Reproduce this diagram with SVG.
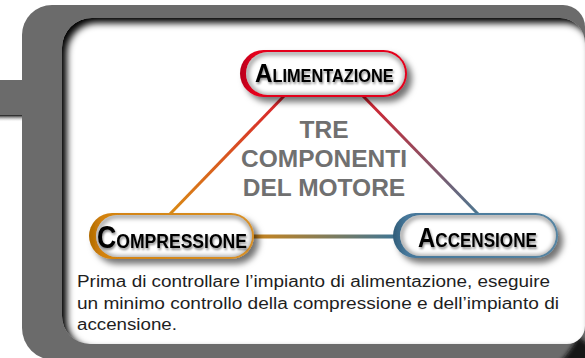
<svg xmlns="http://www.w3.org/2000/svg" width="585" height="358" viewBox="0 0 585 358">
<style>
.lbl{font-family:"Liberation Sans",Arial,sans-serif;font-weight:bold;fill:#000;}
.ctr{font-family:"Liberation Sans",Arial,sans-serif;font-weight:bold;font-size:24.5px;fill:#707070;text-anchor:middle;}
.para{font-family:"Liberation Sans",Arial,sans-serif;font-size:16px;fill:#1e1e1e;}
.conn{fill:none;stroke-linecap:butt;}
</style>
<defs>
<filter id="blur4" x="-20%" y="-20%" width="140%" height="140%"><feGaussianBlur stdDeviation="3.5"/></filter>
<filter id="blur2" x="-20%" y="-20%" width="140%" height="140%"><feGaussianBlur stdDeviation="2"/></filter>
<filter id="pillShadow" x="-20%" y="-40%" width="150%" height="200%">
<feGaussianBlur in="SourceAlpha" stdDeviation="3"/>
<feOffset dx="5" dy="5" result="o"/>
<feFlood flood-color="#000" flood-opacity="0.55"/>
<feComposite in2="o" operator="in"/>
<feMerge><feMergeNode/><feMergeNode in="SourceGraphic"/></feMerge>
</filter>
<filter id="txtShadow" x="-10%" y="-40%" width="120%" height="180%">
<feGaussianBlur in="SourceAlpha" stdDeviation="1.3"/>
<feOffset dx="1" dy="1.5" result="o"/>
<feFlood flood-color="#000" flood-opacity="0.45"/>
<feComposite in2="o" operator="in"/>
<feMerge><feMergeNode/><feMergeNode in="SourceGraphic"/></feMerge>
</filter>
<linearGradient id="gRed" x1="0" x2="1" y1="0" y2="0"><stop offset="0" stop-color="#b5001a"/><stop offset="0.08" stop-color="#e4061c"/><stop offset="1" stop-color="#e4061c"/></linearGradient>
<linearGradient id="gOrange" x1="0" x2="1" y1="0" y2="0"><stop offset="0" stop-color="#b06a00"/><stop offset="0.08" stop-color="#d3820f"/><stop offset="1" stop-color="#d89028"/></linearGradient>
<linearGradient id="gBlue" x1="0" x2="1" y1="0" y2="0"><stop offset="0" stop-color="#2f5c78"/><stop offset="0.08" stop-color="#46779a"/><stop offset="1" stop-color="#5584a2"/></linearGradient>
<linearGradient id="c1" gradientUnits="userSpaceOnUse" x1="284" y1="97" x2="170" y2="213"><stop offset="0" stop-color="#d8202c"/><stop offset="1" stop-color="#d98a14"/></linearGradient>
<linearGradient id="c2" gradientUnits="userSpaceOnUse" x1="363" y1="97" x2="478" y2="213"><stop offset="0" stop-color="#d8202c"/><stop offset="1" stop-color="#4e7790"/></linearGradient>
<linearGradient id="c3" gradientUnits="userSpaceOnUse" x1="254" y1="0" x2="393" y2="0"><stop offset="0" stop-color="#c9841c"/><stop offset="1" stop-color="#427591"/></linearGradient>
<linearGradient id="barShadow" x1="0" x2="0" y1="0" y2="1"><stop offset="0" stop-color="#111"/><stop offset="1" stop-color="#fff" stop-opacity="0"/></linearGradient>
<clipPath id="panelClip"><path d="M92,18 H560 A25,25 0 0 1 585,43 V326 A18,18 0 0 1 567,344 H90 A28,28 0 0 1 62,316 V48 A30,30 0 0 1 92,18 Z"/></clipPath>
<clipPath id="ciA"><rect x="246" y="52" width="159" height="43" rx="21.5"/></clipPath>
<clipPath id="ciC"><rect x="96" y="215" width="156" height="42" rx="21"/></clipPath>
<clipPath id="ciB"><rect x="400" y="215" width="156" height="41" rx="20.5"/></clipPath>
</defs>

<g id="frame">
<rect x="0" y="115" width="22" height="7" fill="url(#barShadow)"/>
<rect x="0" y="80" width="30" height="35" fill="#6b6b6b"/>
<path d="M22,35 A30,30 0 0 1 52,5 H563 A22,22 0 0 1 585,27 V360 H54 A32,32 0 0 1 22,328 Z" fill="#6b6b6b"/>
<path d="M578,336 Q585,342 590,345 V362 H560 Q570,352 578,336 Z" fill="#151515" filter="url(#blur2)"/>
<path d="M92,18 H560 A25,25 0 0 1 585,43 V326 A18,18 0 0 1 567,344 H90 A28,28 0 0 1 62,316 V48 A30,30 0 0 1 92,18 Z" fill="#fff"/>
<g clip-path="url(#panelClip)">
<path fill-rule="evenodd" fill="#000" filter="url(#blur4)" d="M-50,-50 H650 V420 H-50 Z M97,23 H565 A25,25 0 0 1 590,48 V331 A18,18 0 0 1 572,349 H95 A28,28 0 0 1 67,321 V53 A30,30 0 0 1 97,23 Z"/>
</g>
</g>

<g id="connectors">
<line class="conn" x1="284" y1="96" x2="170" y2="214" stroke="url(#c1)" stroke-width="3"/>
<line class="conn" x1="363" y1="96" x2="478" y2="214" stroke="url(#c2)" stroke-width="3"/>
<line class="conn" x1="252" y1="236.5" x2="395" y2="236.5" stroke="url(#c3)" stroke-width="4"/>
</g>

<g id="center-label">
<text class="ctr" x="324" y="138">TRE</text>
<text class="ctr" x="324" y="167">COMPONENTI</text>
<text class="ctr" x="324" y="196">DEL MOTORE</text>
</g>

<g id="node-alimentazione">
<g filter="url(#pillShadow)">
<rect x="240" y="50" width="167" height="47" rx="23.5" fill="url(#gRed)"/>
<rect x="246" y="52" width="159" height="43" rx="21.5" fill="#fff"/>
</g>
<g clip-path="url(#ciA)"><rect x="247" y="53" width="159" height="43" rx="21.5" fill="none" stroke="#000" stroke-opacity="0.35" stroke-width="5" filter="url(#blur2)"/></g>
<text class="lbl" transform="translate(255,82) scale(0.933,1)" filter="url(#txtShadow)"><tspan font-size="26">A</tspan><tspan font-size="17.5">LIMENTAZIONE</tspan></text>
</g>

<g id="node-compressione">
<g filter="url(#pillShadow)">
<rect x="89" y="213" width="165" height="46" rx="23" fill="url(#gOrange)"/>
<rect x="96" y="215" width="156" height="42" rx="21" fill="#fff"/>
</g>
<g clip-path="url(#ciC)"><rect x="97" y="216" width="156" height="42" rx="21" fill="none" stroke="#000" stroke-opacity="0.35" stroke-width="5" filter="url(#blur2)"/></g>
<text class="lbl" transform="translate(97,248) scale(0.836,1)" filter="url(#txtShadow)"><tspan font-size="32">C</tspan><tspan font-size="21">OMPRESSIONE</tspan></text>
</g>

<g id="node-accensione">
<g filter="url(#pillShadow)">
<rect x="393" y="213" width="165" height="45" rx="22.5" fill="url(#gBlue)"/>
<rect x="400" y="215" width="156" height="41" rx="20.5" fill="#fff"/>
</g>
<g clip-path="url(#ciB)"><rect x="401" y="216" width="156" height="41" rx="20.5" fill="none" stroke="#000" stroke-opacity="0.35" stroke-width="5" filter="url(#blur2)"/></g>
<text class="lbl" transform="translate(418,247) scale(0.855,1)" filter="url(#txtShadow)"><tspan font-size="28">A</tspan><tspan font-size="20">CCENSIONE</tspan></text>
</g>

<g id="note">
<text class="para" x="77" y="287" textLength="473" lengthAdjust="spacingAndGlyphs">Prima di controllare l’impianto di alimentazione, eseguire</text>
<text class="para" x="77" y="308.5" textLength="482" lengthAdjust="spacingAndGlyphs">un minimo controllo della compressione e dell’impianto di</text>
<text class="para" x="77" y="330" textLength="100" lengthAdjust="spacingAndGlyphs">accensione.</text>
</g>
</svg>
